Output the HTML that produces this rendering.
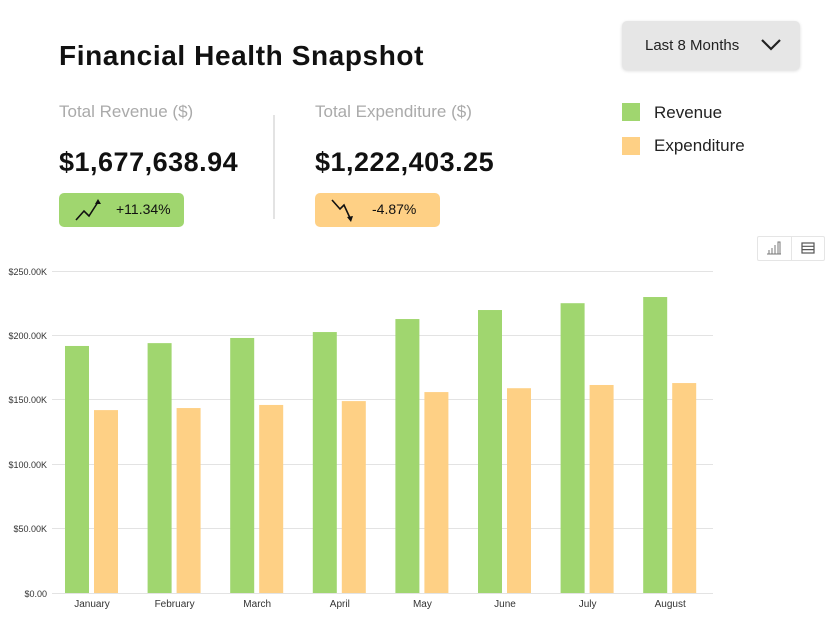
<!DOCTYPE html>
<html><head><meta charset="utf-8"><style>
body{margin:0;width:830px;height:624px;background:#fff;font-family:"Liberation Sans",sans-serif;position:relative;overflow:hidden}
.a{position:absolute}
</style></head><body>
<div class="a" style="left:59px;top:40px;font-size:28px;font-weight:bold;color:#111;letter-spacing:0.6px">Financial Health Snapshot</div>
<div class="a" style="left:622px;top:21px;width:178px;height:49px;background:#e6e6e6;border-radius:5px;box-shadow:0 1px 3px rgba(0,0,0,.15)"></div>
<div class="a" style="left:645px;top:37px;font-size:15px;color:#222">Last 8 Months</div>
<svg class="a" style="left:760px;top:38px" width="22" height="14"><polyline points="2,2 11,11 20,2" fill="none" stroke="#222" stroke-width="2.2"/></svg>
<div class="a" style="left:59px;top:102px;font-size:17px;color:#aaa">Total Revenue ($)</div>
<div class="a" style="left:315px;top:102px;font-size:17px;color:#aaa">Total Expenditure ($)</div>
<div class="a" style="left:59px;top:147px;font-size:27px;font-weight:bold;color:#111;letter-spacing:0.5px">$1,677,638.94</div>
<div class="a" style="left:315px;top:147px;font-size:27px;font-weight:bold;color:#111;letter-spacing:0.5px">$1,222,403.25</div>
<div class="a" style="left:273px;top:115px;width:2px;height:104px;background:#e3e3e3"></div>
<div class="a" style="left:59px;top:193px;width:125px;height:34px;background:#a0d66f;border-radius:5px"></div>
<svg class="a" style="left:74px;top:197px" width="28" height="26"><polyline points="2,23 10,14 15,19 24,5" fill="none" stroke="#111" stroke-width="1.6"/><polygon points="24,2 21,7 27,7" fill="#111"/></svg>
<div class="a" style="left:116px;top:201px;font-size:14px;color:#111">+11.34%</div>
<div class="a" style="left:315px;top:193px;width:125px;height:34px;background:#fed085;border-radius:5px"></div>
<svg class="a" style="left:330px;top:197px" width="28" height="26"><polyline points="2,3 10,12 14,8 20,21" fill="none" stroke="#111" stroke-width="1.6"/><polygon points="21,25 17,20 23,19" fill="#111"/></svg>
<div class="a" style="left:372px;top:201px;font-size:14px;color:#111">-4.87%</div>
<div class="a" style="left:622px;top:103px;width:18px;height:18px;background:#a0d66f"></div>
<div class="a" style="left:654px;top:103px;font-size:17px;color:#222">Revenue</div>
<div class="a" style="left:622px;top:137px;width:18px;height:18px;background:#fed085"></div>
<div class="a" style="left:654px;top:136px;font-size:17px;color:#222">Expenditure</div>
<div class="a" style="left:757px;top:236px;width:66px;height:23px;border:1px solid #e5e5e5;border-radius:2px"></div>
<div class="a" style="left:791px;top:236px;width:1px;height:24px;background:#e5e5e5"></div>
<svg class="a" style="left:766px;top:241px" width="16" height="14"><path d="M1 13H15M3 13V9M6 13V7M9 13V4M12 13V1H14V13" fill="none" stroke="#777" stroke-width="1"/></svg>
<svg class="a" style="left:801px;top:242px" width="14" height="12"><rect x="1" y="1" width="12" height="10" fill="none" stroke="#555" stroke-width="1.2"/><path d="M1 4.3H13M1 7.6H13" stroke="#555" stroke-width="1.2"/></svg>
<svg class="a" style="left:0;top:0" width="830" height="624" font-family="Liberation Sans, sans-serif">
<g stroke="#e3e3e3" stroke-width="1">
<line x1="52" x2="713" y1="271.5" y2="271.5"/><line x1="52" x2="713" y1="335.5" y2="335.5"/><line x1="52" x2="713" y1="399.5" y2="399.5"/><line x1="52" x2="713" y1="464.5" y2="464.5"/><line x1="52" x2="713" y1="528.5" y2="528.5"/><line x1="52" x2="713" y1="593.5" y2="593.5"/>
</g>
<g font-size="9" fill="#333" text-anchor="end">
<text x="47" y="275">$250.00K</text><text x="47" y="339">$200.00K</text><text x="47" y="403">$150.00K</text><text x="47" y="468">$100.00K</text><text x="47" y="532">$50.00K</text><text x="47" y="597">$0.00</text>
</g>
<g id="bars"></g>
<g font-size="10" fill="#333" text-anchor="middle" id="lbl"></g>
</svg>
<script>
var r=[191.8,194,198,202.6,212.7,219.7,225,229.8],e=[142,143.6,146,149,156,159,161.5,163],m=["January","February","March","April","May","June","July","August"];
var b=document.getElementById("bars"),l=document.getElementById("lbl"),s="",t="";
for(var i=0;i<8;i++){var x=52+i*82.6;var h1=r[i]*1.288,h2=e[i]*1.288;
s+='<rect x="'+(x+13)+'" y="'+(593-h1)+'" width="24" height="'+h1+'" fill="#a0d66f"/>';
s+='<rect x="'+(x+42)+'" y="'+(593-h2)+'" width="24" height="'+h2+'" fill="#fed085"/>';
t+='<text x="'+(x+40)+'" y="607">'+m[i]+'</text>';}
b.innerHTML=s;l.innerHTML=t;
</script>
</body></html>
